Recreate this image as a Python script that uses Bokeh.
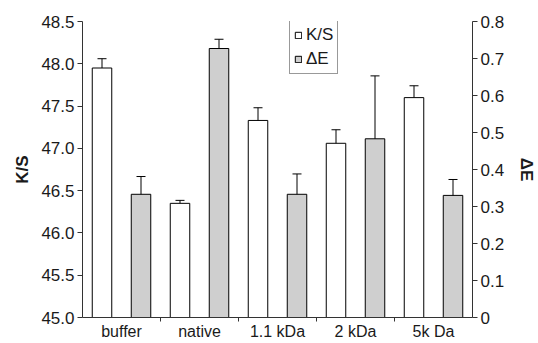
import numpy as np
from bokeh.plotting import figure
from bokeh.models import (ColumnDataSource, Range1d, LinearAxis, FixedTicker, Whisker,
                          TeeHead, Legend, LegendItem, PrintfTickFormatter)
from bokeh.embed import file_html
from bokeh.resources import INLINE

categories = ["buffer", "native", "1.1 kDa", "2 kDa", "5k Da"]
ks_values = [47.95, 46.35, 47.33, 47.06, 47.60]
ks_errors = [0.11, 0.035, 0.15, 0.16, 0.14]
de_values = [0.333, 0.727, 0.333, 0.483, 0.330]
de_errors = [0.048, 0.025, 0.055, 0.17, 0.043]

FONT = "Liberation Sans"
TXT = "#1a1a1a"

idx = np.arange(len(categories))
ks_src = ColumnDataSource(dict(
    x=idx + 0.25, top=ks_values,
    upper=np.array(ks_values) + np.array(ks_errors),
    lower=np.array(ks_values) - np.array(ks_errors)))
de_src = ColumnDataSource(dict(
    x=idx + 0.75, top=de_values,
    upper=np.array(de_values) + np.array(de_errors),
    lower=np.array(de_values) - np.array(de_errors)))

p = figure(frame_width=390, frame_height=296, output_backend="svg", toolbar_location=None,
           x_range=Range1d(0, len(categories)), y_range=Range1d(45.0, 48.5),
           min_border_left=82, min_border_right=60, min_border_top=21, min_border_bottom=18,
           background_fill_color="white", border_fill_color="white")
p.outline_line_color = None
p.grid.grid_line_color = None
p.extra_y_ranges = {"de": Range1d(0, 0.8)}

r_ks = p.vbar(x="x", top="top", bottom=45.0, width=0.25, source=ks_src,
              fill_color="white", line_color="black", line_width=1)
r_de = p.vbar(x="x", top="top", bottom=0, width=0.25, source=de_src, y_range_name="de",
              fill_color="#cfcfcf", line_color="black", line_width=1)

w1 = Whisker(base="x", upper="upper", lower="lower", source=ks_src,
             line_color="black", line_width=1,
             upper_head=TeeHead(size=9, line_color="black", line_width=1),
             lower_head=TeeHead(size=9, line_color="black", line_width=1))
w2 = Whisker(base="x", upper="upper", lower="lower", source=de_src, y_range_name="de",
             line_color="black", line_width=1,
             upper_head=TeeHead(size=9, line_color="black", line_width=1),
             lower_head=TeeHead(size=9, line_color="black", line_width=1))
p.add_layout(w1)
p.add_layout(w2)

# x axis: labels centered in groups, tick marks at group boundaries
xa = p.xaxis[0]
xa.ticker = FixedTicker(ticks=list(idx + 0.5), minor_ticks=list(range(1, len(categories))))
xa.major_label_overrides = {float(i + 0.5): c for i, c in enumerate(categories)}
xa.major_tick_line_color = None
xa.major_tick_out = 0
xa.major_tick_in = 0
xa.minor_tick_out = 4
xa.minor_tick_in = 0
xa.minor_tick_line_color = "#333333"
xa.major_label_standoff = 1
xa.major_label_text_font = FONT
xa.major_label_text_font_size = "16px"
xa.major_label_text_color = TXT
xa.axis_line_color = "#333333"

ya = p.yaxis[0]
ya.ticker = FixedTicker(ticks=[45.0, 45.5, 46.0, 46.5, 47.0, 47.5, 48.0, 48.5], minor_ticks=[])
ya.formatter = PrintfTickFormatter(format="%.1f")
ya.major_tick_out = 5
ya.major_tick_in = 0
ya.major_label_standoff = 3
ya.major_label_text_font = FONT
ya.major_label_text_font_size = "17px"
ya.major_label_text_color = TXT
ya.axis_line_color = "#333333"
ya.major_tick_line_color = "#333333"
ya.axis_label = "K/S"
ya.axis_label_text_font = FONT
ya.axis_label_text_font_style = "bold"
ya.axis_label_text_font_size = "17px"
ya.axis_label_text_color = TXT
ya.axis_label_standoff = 6

ra = LinearAxis(y_range_name="de")
ra.ticker = FixedTicker(ticks=[0, 0.1, 0.2, 0.3, 0.4, 0.5, 0.6, 0.7, 0.8], minor_ticks=[])
ra.major_label_overrides = {0: "0"}
ra.formatter = PrintfTickFormatter(format="%.1f")
ra.major_tick_out = 5
ra.major_tick_in = 0
ra.major_label_standoff = 3
ra.major_label_text_font = FONT
ra.major_label_text_font_size = "17px"
ra.major_label_text_color = TXT
ra.axis_line_color = "#333333"
ra.major_tick_line_color = "#333333"
ra.axis_label = "ΔE"
ra.axis_label_text_font = FONT
ra.axis_label_text_font_style = "bold"
ra.axis_label_text_font_size = "17px"
ra.axis_label_text_color = TXT
ra.axis_label_standoff = 10
p.add_layout(ra, "right")

legend = Legend(items=[LegendItem(label="K/S", renderers=[r_ks]),
                       LegendItem(label="ΔE", renderers=[r_de])],
                location=(207, 243), margin=0, padding=4, spacing=4,
                glyph_width=8, glyph_height=8, label_height=19, label_standoff=4,
                label_text_font=FONT, label_text_font_size="17px", label_text_color=TXT,
                border_line_color="#333333", border_line_width=1,
                background_fill_color="white", background_fill_alpha=1.0)
p.add_layout(legend)

open("out.html", "w").write(file_html(p, INLINE))
